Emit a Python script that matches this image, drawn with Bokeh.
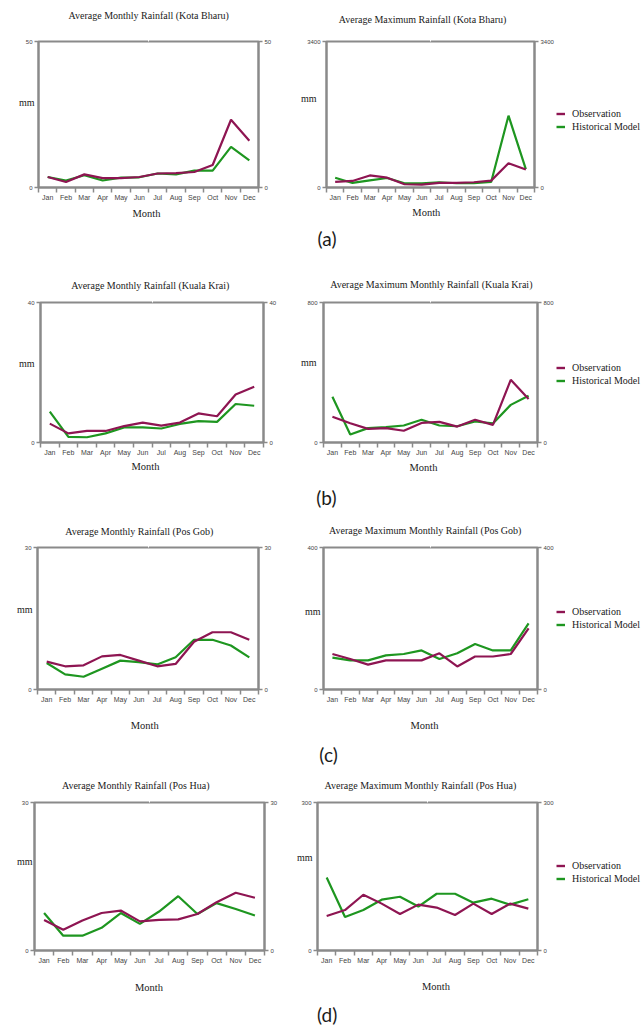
from bokeh.plotting import figure
from bokeh.models import (ColumnDataSource, Range1d, LinearAxis, FixedTicker, Legend,
                          LegendItem, Title)
from bokeh.layouts import column, row
from bokeh.embed import file_html
from bokeh.resources import INLINE

# ---------------- data ----------------
months = ["Jan", "Feb", "Mar", "Apr", "May", "Jun", "Jul", "Aug", "Sep", "Oct", "Nov", "Dec"]

kota_bharu_avg_obs = [3.6, 1.9, 4.5, 3.2, 3.2, 3.6, 4.8, 4.9, 5.3, 7.7, 23.2, 16.0]
kota_bharu_avg_hist = [3.6, 2.4, 4.2, 2.4, 3.4, 3.5, 4.8, 4.5, 5.8, 5.8, 13.9, 9.3]
kota_bharu_max_obs = [129, 152, 281, 228, 76, 68, 106, 106, 122, 160, 563, 418]
kota_bharu_max_hist = [228, 106, 167, 221, 99, 99, 122, 99, 99, 129, 1673, 426]

kuala_krai_avg_obs = [5.4, 2.6, 3.3, 3.3, 4.7, 5.7, 4.8, 5.7, 8.3, 7.5, 13.7, 15.9]
kuala_krai_avg_hist = [8.8, 1.6, 1.5, 2.6, 4.3, 4.3, 4.0, 5.3, 6.1, 5.9, 11.0, 10.5]
kuala_krai_max_obs = [147, 110, 78, 82, 67, 112, 118, 91, 130, 101, 358, 248]
kuala_krai_max_hist = [261, 46, 82, 88, 97, 130, 97, 93, 120, 109, 215, 267]

pos_gob_avg_obs = [5.9, 4.9, 5.1, 7.0, 7.3, 6.1, 4.9, 5.4, 10.1, 12.1, 12.1, 10.5]
pos_gob_avg_hist = [5.6, 3.2, 2.7, 4.4, 6.1, 5.8, 5.3, 6.8, 10.5, 10.5, 9.3, 6.8]
pos_gob_max_obs = [100, 86, 70, 82, 82, 82, 102, 65, 93, 93, 100, 172]
pos_gob_max_hist = [90, 82, 82, 96, 100, 110, 86, 102, 128, 110, 110, 186]

pos_hua_avg_obs = [6.2, 4.2, 6.1, 7.6, 8.1, 5.9, 6.2, 6.3, 7.4, 9.8, 11.7, 10.7]
pos_hua_avg_hist = [7.6, 3.0, 3.0, 4.6, 7.6, 5.4, 7.9, 11.0, 7.4, 9.6, 8.4, 7.1]
pos_hua_max_obs = [70, 82, 113, 95, 74, 93, 87, 72, 95, 74, 95, 85]
pos_hua_max_hist = [148, 68, 82, 103, 109, 89, 115, 115, 97, 105, 93, 104]

series_names = ["Observation", "Historical Model"]
y_unit = "mm"
x_title = "Month"

# ---------------- styles / layout ----------------
SERIF = "Liberation Serif"
SANS = "Liberation Sans"
OBS_COLOR = "#8E1552"
HIST_COLOR = "#1E9620"
AXIS_COLOR = "#8a8a8a"
TEXT_COLOR = "#1a1a1a"
TICK_TEXT = "#444444"

ROW_TOPS = [0, 262, 515, 772]
ROW_HEIGHTS = [262, 253, 257, 258]
COL_LEFTS = [0, 280, 556]
COL_WIDTHS = [280, 276, 85]

EDGE_H = 5          # month boundary tick length
TITLE_GAP = 7       # title centre above its panel edge (no spacer)
MONTH_GAP = 22      # "Month" centre below frame (no spacer)
H_MONTH = 11.6
H_PANEL = 22.8
YLAB_PX = 6

n = len(months)
month_pos = [i + 0.5 for i in range(n)]          # centre of each month slot
month_edges = list(range(n + 1))                  # slot boundaries (tick marks)


def spacer(size):
    mid = n / 2
    return LinearAxis(ticker=FixedTicker(ticks=[mid]), axis_line_color=None,
                      major_tick_line_color="white", major_tick_line_width=1,
                      minor_tick_line_color=None,
                      major_tick_in=0, major_tick_out=max(1, int(round(size))),
                      minor_tick_in=0, minor_tick_out=0, major_label_standoff=0,
                      major_label_text_font_size="0px", major_label_text_color=None,
                      major_label_overrides={mid: ""})


def title_obj(text, offset, size, font=SERIF, align="left"):
    return Title(text=text, align=align, offset=offset, standoff=0, vertical_align="top",
                 text_font=font, text_font_size=size, text_font_style="normal",
                 text_color=TEXT_COLOR)


def bottom_border(r, frame):
    return round(ROW_TOPS[r] + ROW_HEIGHTS[r] - frame[3])


def make_chart(r, c, title, ymax, obs, hist, frame, title_pos, mm_pos, month_c, panel=None):
    fx, fy = COL_LEFTS[c], ROW_TOPS[r]
    w, h = COL_WIDTHS[c], ROW_HEIGHTS[r]
    l, t, rr, b = frame
    T = round(t - fy)
    B = bottom_border(r, frame)
    p = figure(width=w, height=h, x_range=Range1d(0, n), y_range=Range1d(0, ymax),
               x_axis_location=None, y_axis_location=None,
               output_backend="svg", toolbar_location=None,
               min_border_left=round(l - fx), min_border_right=round(fx + w - rr),
               min_border_top=T, min_border_bottom=B)
    p.grid.visible = False
    p.title.visible = False
    p.outline_line_color = AXIS_COLOR
    p.outline_line_width = 2
    p.background_fill_color = "white"
    p.border_fill_color = "white"

    # ---- x axes: boundary ticks + month names ----
    edge_axis = LinearAxis(ticker=FixedTicker(ticks=month_edges),
                           axis_line_color=AXIS_COLOR, axis_line_width=2,
                           major_tick_line_color=AXIS_COLOR, major_tick_line_width=1.5,
                           major_tick_in=0, major_tick_out=EDGE_H,
                           minor_tick_line_color=None, minor_tick_out=0,
                           major_label_standoff=0, major_label_text_font_size="0px",
                           major_label_text_color=None,
                           major_label_overrides={e: "" for e in month_edges})
    name_axis = LinearAxis(ticker=FixedTicker(ticks=month_pos),
                           major_label_overrides=dict(zip(month_pos, months)),
                           axis_line_color=None, major_tick_line_color=None,
                           major_tick_in=0, major_tick_out=0,
                           minor_tick_line_color=None, minor_tick_out=0,
                           major_label_standoff=1, major_label_text_font=SANS,
                           major_label_text_font_size="7px",
                           major_label_text_color=TICK_TEXT)
    p.add_layout(edge_axis, "below")
    p.add_layout(name_axis, "below")

    # ---- y axes ----
    ylab_w = 0.556 * YLAB_PX * len(str(ymax))
    for side in ("left", "right"):
        ya = LinearAxis(ticker=FixedTicker(ticks=[0, ymax]),
                        axis_line_color=AXIS_COLOR, axis_line_width=2,
                        major_tick_line_color=AXIS_COLOR, major_tick_line_width=1.5,
                        major_tick_in=0, major_tick_out=4,
                        minor_tick_line_color=None, minor_tick_out=0,
                        major_label_standoff=2, major_label_text_font=SANS,
                        major_label_text_font_size=f"{YLAB_PX}px",
                        major_label_text_color=TICK_TEXT)
        p.add_layout(ya, side)
    axis_w = 4 + 2 + ylab_w

    # unit label "mm" as a single labelled tick on an extra left axis
    mm_val = round((b - mm_pos[1]) / (b - t) * ymax, 3)
    mm_standoff = int(round((l - axis_w) - (mm_pos[0] + 7.8))) - 3
    mm_axis = LinearAxis(ticker=FixedTicker(ticks=[mm_val]),
                         major_label_overrides={mm_val: y_unit},
                         axis_line_color=None, major_tick_line_color=None,
                         major_tick_in=0, major_tick_out=0,
                         minor_tick_line_color=None, minor_tick_out=0,
                         major_label_standoff=mm_standoff, major_label_text_font=SERIF,
                         major_label_text_font_size="10px", major_label_text_color=TEXT_COLOR)
    p.add_layout(mm_axis, "left")

    # ---- chart title above ----
    s_top = int(round((t - title_pos[1]) - TITLE_GAP))
    s_top = min(s_top, T - 15)
    if s_top >= 1:
        p.add_layout(spacer(s_top), "above")
    p.add_layout(title_obj(title, title_pos[0] - l, "10px"), "above")

    # ---- "Month" below ----
    s1 = int(round((month_c[1] - b) - MONTH_GAP))
    if s1 >= 1:
        p.add_layout(spacer(s1), "below")
    else:
        s1 = 0
    month_w = 2.667 * 10.5
    p.add_layout(title_obj(x_title, month_c[0] - month_w / 2 - l, "10.5px"), "below")

    src = ColumnDataSource(dict(x=month_pos, month=months, obs=obs, hist=hist))
    p.line("x", "hist", source=src, line_color=HIST_COLOR, line_width=2.2)
    p.line("x", "obs", source=src, line_color=OBS_COLOR, line_width=2.2)

    if panel is not None:
        text, px_right, py = panel
        month_bottom = MONTH_GAP - H_MONTH / 2 + s1 + 2 + H_MONTH
        s2 = py - b - month_bottom - H_PANEL / 2
        s2 = min(s2, B - month_bottom - 2 - H_PANEL - 1)
        if s2 >= 1:
            p.add_layout(spacer(s2), "below")
        p.add_layout(title_obj(text, rr - px_right, "19px", font="Lato", align="right"),
                     "below")
    return p


def make_legend(r, obs, hist, hist_y, row_frames):
    """Legend column to the right of each right-hand chart (frames align per row)."""
    fy, h = ROW_TOPS[r], ROW_HEIGHTS[r]
    p = figure(width=COL_WIDTHS[2], height=h, x_range=Range1d(0, n), y_range=Range1d(-2, -1),
               x_axis_location=None, y_axis_location=None, min_border=0,
               output_backend="svg", toolbar_location=None)
    p.grid.visible = False
    p.title.visible = False
    p.outline_line_color = None
    p.background_fill_color = "white"
    p.border_fill_color = "white"
    # the chart's series, drawn outside this panel's visible range: only their legend shows
    src = ColumnDataSource(dict(x=month_pos, obs=obs, hist=hist))
    r_obs = p.line("x", "obs", source=src, line_color=OBS_COLOR, line_width=2.4)
    r_hist = p.line("x", "hist", source=src, line_color=HIST_COLOR, line_width=2.4)
    frame_bottom = fy + h - max(bottom_border(r, f) for f in row_frames)
    vy = int(round(frame_bottom - (hist_y + 6.5)))
    leg = Legend(items=[LegendItem(label=series_names[0], renderers=[r_obs]),
                        LegendItem(label=series_names[1], renderers=[r_hist])],
                 location=(0, vy), border_line_color=None, background_fill_alpha=0,
                 padding=0, margin=0, spacing=0, glyph_width=9, glyph_height=13,
                 label_height=13, label_standoff=7, label_text_font=SERIF,
                 label_text_font_size="10px", label_text_color=TEXT_COLOR)
    p.add_layout(leg)
    return p


fa1, fa2 = (38.3, 40.7, 258.3, 187.3), (326, 40, 535, 189)
fb1, fb2 = (40, 300.7, 263, 441.7), (323.3, 301.7, 539, 441.7)
fc1, fc2 = (37.3, 546, 258.3, 689.3), (322.7, 546.7, 537.3, 690)
fd1, fd2 = (34.3, 801.7, 266.7, 950), (317.3, 801.7, 538.3, 950.7)

a1 = make_chart(0, 0, "Average Monthly Rainfall (Kota Bharu)", 50,
                kota_bharu_avg_obs, kota_bharu_avg_hist,
                fa1, (68.3, 15), (26.7, 101.7), (146.3, 213))
a2 = make_chart(0, 1, "Average Maximum Rainfall (Kota Bharu)", 3400,
                kota_bharu_max_obs, kota_bharu_max_hist,
                fa2, (338.3, 18.3), (308, 98), (425.8, 214), panel=("(a)", 337, 240))
a3 = make_legend(0, kota_bharu_max_obs, kota_bharu_max_hist, 126, (fa1, fa2))
b1 = make_chart(1, 0, "Average Monthly Rainfall (Kuala Krai)", 40,
                kuala_krai_avg_obs, kuala_krai_avg_hist,
                fb1, (70.7, 283.3), (27, 361.7), (145, 466))
b2 = make_chart(1, 1, "Average Maximum Monthly Rainfall (Kuala Krai)", 800,
                kuala_krai_max_obs, kuala_krai_max_hist,
                fb2, (330, 283.3), (308, 361.7), (423.3, 466.7), panel=("(b)", 338, 497))
b3 = make_legend(1, kuala_krai_max_obs, kuala_krai_max_hist, 380.7, (fb1, fb2))
c1 = make_chart(2, 0, "Average Monthly Rainfall (Pos Gob)", 30,
                pos_gob_avg_obs, pos_gob_avg_hist,
                fc1, (65, 530), (25, 609), (144.5, 725))
c2 = make_chart(2, 1, "Average Maximum Monthly Rainfall (Pos Gob)", 400,
                pos_gob_max_obs, pos_gob_max_hist,
                fc2, (328.3, 530), (312, 611), (423.7, 726), panel=("(c)", 337.5, 755))
c3 = make_legend(2, pos_gob_max_obs, pos_gob_max_hist, 625, (fc1, fc2))
d1 = make_chart(3, 0, "Average Monthly Rainfall (Pos Hua)", 30,
                pos_hua_avg_obs, pos_hua_avg_hist,
                fd1, (61.7, 785), (25, 861), (148.7, 986.7))
d2 = make_chart(3, 1, "Average Maximum Monthly Rainfall (Pos Hua)", 300,
                pos_hua_max_obs, pos_hua_max_hist,
                fd2, (324.3, 785), (304, 857), (435.8, 986.7), panel=("(d)", 338, 1015))
d3 = make_legend(3, pos_hua_max_obs, pos_hua_max_hist, 878.7, (fd1, fd2))

layout = column(row(a1, a2, a3, spacing=0), row(b1, b2, b3, spacing=0),
                row(c1, c2, c3, spacing=0), row(d1, d2, d3, spacing=0), spacing=0)

with open("out.html", "w") as f:
    f.write(file_html(layout, INLINE))
